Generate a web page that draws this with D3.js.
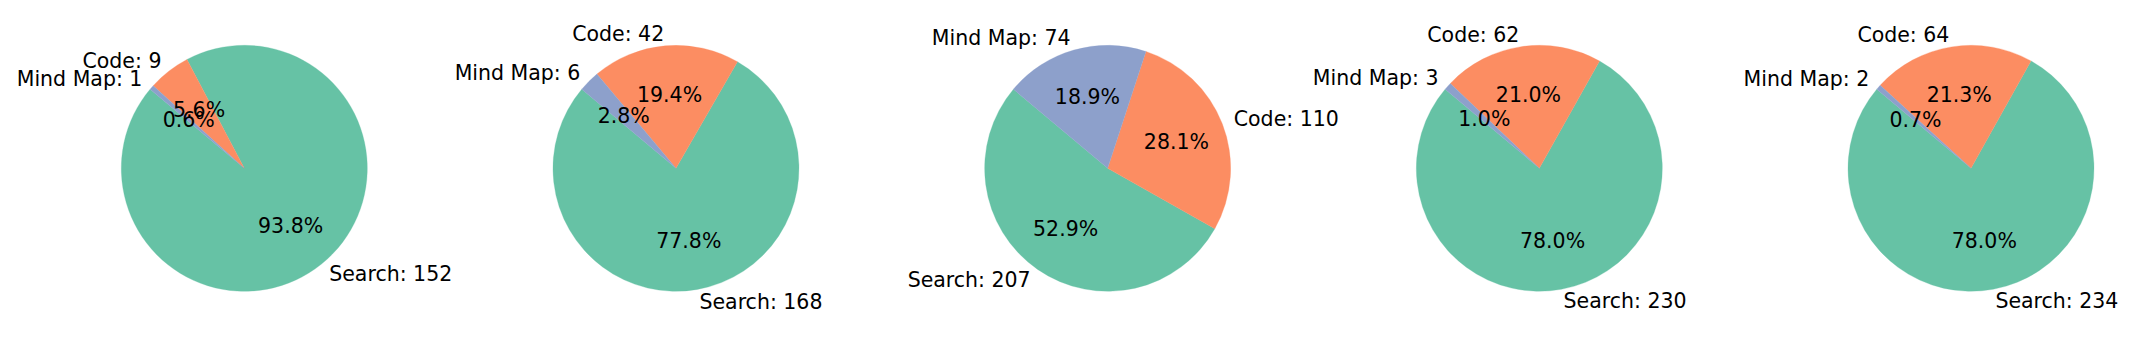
<!DOCTYPE html>
<html lang="en">
<head>
    <meta charset="UTF-8">
    <title>Tool usage pies</title>
    <script src="https://d3js.org/d3.v7.min.js"></script>
    <style>
        body { margin: 0; background: #fff; }
        svg { display: block; }
        text { font-family: "DejaVu Sans", sans-serif; font-size: 20.5px; fill: #000; }
    </style>
</head>
<body>
    <svg id="chart" width="2139" height="338"></svg>
    <script>
        // slice order as drawn (counterclockwise from 140 deg)
        const categories = ["Search", "Code", "Mind Map"];
        const searchCounts = [152, 168, 207, 230, 234];
        const codeCounts = [9, 42, 110, 62, 64];
        const mindMapCounts = [1, 6, 74, 3, 2];
        const colors = ["#66c2a5", "#fc8d62", "#8da0cb"];

        const svg = d3.select("#chart");
        const radius = 123;
        const cy = 168.3;
        const startDeg = 140;

        // pie centres spread evenly across the figure
        const x = d3.scaleLinear().domain([0, 4]).range([244.3, 1971]);

        const pies = searchCounts.map((s, i) => [s, codeCounts[i], mindMapCounts[i]]);

        pies.forEach((vals, i) => {
            const cx = x(i);
            const total = d3.sum(vals);
            const g = svg.append("g").attr("transform", `translate(${cx},${cy})`);

            // matplotlib goes counterclockwise from startangle; d3 angle = 90 - deg
            const toRad = deg => (90 - deg) * Math.PI / 180;
            let acc = startDeg;
            const slices = vals.map((v, k) => {
                const a0 = acc;
                const a1 = acc + v / total * 360;
                acc = a1;
                return { value: v, k: k, a0: a0, a1: a1, mid: (a0 + a1) / 2 };
            });

            const arc = d3.arc().innerRadius(0).outerRadius(radius);
            g.selectAll("path.slice")
                .data(slices)
                .join("path")
                .attr("class", "slice")
                .attr("d", d => arc({ startAngle: toRad(d.a1), endAngle: toRad(d.a0) }))
                .attr("fill", d => colors[d.k])
                .attr("stroke", d => colors[d.k])
                .attr("stroke-width", 0.3);

            // outer labels at 1.1 r
            g.selectAll("text.lbl")
                .data(slices)
                .join("text")
                .attr("class", "lbl")
                .attr("x", d => 1.1 * radius * Math.cos(d.mid * Math.PI / 180))
                .attr("y", d => -1.1 * radius * Math.sin(d.mid * Math.PI / 180))
                .attr("dominant-baseline", "central")
                .attr("text-anchor", d => Math.cos(d.mid * Math.PI / 180) > 0 ? "start" : "end")
                .text(d => `${categories[d.k]}: ${d.value}`);

            // percentages at 0.6 r
            g.selectAll("text.pct")
                .data(slices)
                .join("text")
                .attr("class", "pct")
                .attr("x", d => 0.6 * radius * Math.cos(d.mid * Math.PI / 180))
                .attr("y", d => -0.6 * radius * Math.sin(d.mid * Math.PI / 180))
                .attr("dominant-baseline", "central")
                .attr("text-anchor", "middle")
                .text(d => (d.value / total * 100).toFixed(1) + "%");
        });
    </script>
</body>
</html>
